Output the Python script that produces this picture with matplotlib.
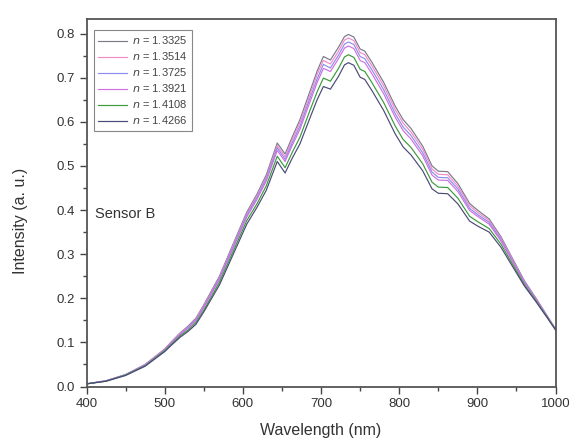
import numpy as np
import matplotlib
matplotlib.use("Agg")
import matplotlib.pyplot as plt
from matplotlib.ticker import MultipleLocator

plt.rcParams['font.family'] = ['Liberation Sans', 'DejaVu Sans']

wavelength = [400, 425, 450, 475, 500, 510, 520, 530, 540, 550, 570, 588, 605, 618,
              630, 644, 654, 663, 673, 685, 695, 703, 712, 722, 730, 735, 742, 750,
              756, 765, 780, 795, 805, 815, 830, 842, 850, 862, 875, 890, 900, 915,
              930, 945, 960, 975, 990, 1000]

n_1_3325 = [0.006, 0.013, 0.027, 0.050, 0.085, 0.104, 0.122, 0.137, 0.155, 0.185, 0.250, 0.325,
            0.395, 0.436, 0.480, 0.552, 0.527, 0.565, 0.605, 0.665, 0.715, 0.748, 0.740, 0.768,
            0.793, 0.798, 0.792, 0.765, 0.760, 0.735, 0.690, 0.635, 0.605, 0.585, 0.545, 0.500,
            0.488, 0.487, 0.460, 0.415, 0.400, 0.380, 0.340, 0.290, 0.240, 0.200, 0.158, 0.130]
n_1_3514 = [0.006, 0.013, 0.027, 0.050, 0.084, 0.103, 0.121, 0.135, 0.153, 0.183, 0.247, 0.322,
            0.391, 0.432, 0.475, 0.546, 0.521, 0.559, 0.598, 0.657, 0.707, 0.739, 0.731, 0.759,
            0.785, 0.790, 0.784, 0.757, 0.752, 0.727, 0.682, 0.627, 0.597, 0.577, 0.538, 0.493,
            0.481, 0.480, 0.454, 0.410, 0.395, 0.376, 0.337, 0.288, 0.238, 0.199, 0.158, 0.130]
n_1_3725 = [0.006, 0.013, 0.027, 0.049, 0.083, 0.102, 0.119, 0.134, 0.151, 0.181, 0.245, 0.319,
            0.388, 0.428, 0.471, 0.541, 0.515, 0.552, 0.590, 0.649, 0.697, 0.730, 0.722, 0.750,
            0.776, 0.781, 0.775, 0.748, 0.743, 0.718, 0.673, 0.618, 0.588, 0.569, 0.530, 0.486,
            0.474, 0.473, 0.448, 0.404, 0.390, 0.372, 0.334, 0.285, 0.237, 0.198, 0.157, 0.129]
n_1_3921 = [0.006, 0.013, 0.026, 0.048, 0.083, 0.101, 0.118, 0.132, 0.149, 0.179, 0.242, 0.315,
            0.384, 0.424, 0.466, 0.535, 0.510, 0.546, 0.583, 0.641, 0.689, 0.721, 0.714, 0.742,
            0.767, 0.772, 0.766, 0.739, 0.734, 0.709, 0.664, 0.610, 0.580, 0.561, 0.523, 0.479,
            0.468, 0.467, 0.442, 0.399, 0.386, 0.368, 0.330, 0.283, 0.235, 0.197, 0.156, 0.129]
n_1_4108 = [0.006, 0.012, 0.026, 0.047, 0.081, 0.098, 0.115, 0.128, 0.145, 0.173, 0.236, 0.308,
            0.376, 0.414, 0.455, 0.522, 0.496, 0.530, 0.565, 0.622, 0.668, 0.699, 0.692, 0.720,
            0.747, 0.752, 0.746, 0.719, 0.714, 0.689, 0.644, 0.590, 0.560, 0.542, 0.505, 0.463,
            0.452, 0.451, 0.427, 0.386, 0.374, 0.358, 0.323, 0.277, 0.231, 0.194, 0.155, 0.129]
n_1_4266 = [0.006, 0.012, 0.025, 0.046, 0.079, 0.096, 0.112, 0.125, 0.141, 0.169, 0.230, 0.301,
            0.368, 0.406, 0.445, 0.510, 0.484, 0.517, 0.550, 0.605, 0.650, 0.680, 0.674, 0.702,
            0.729, 0.734, 0.728, 0.701, 0.696, 0.671, 0.626, 0.572, 0.543, 0.525, 0.489, 0.448,
            0.438, 0.437, 0.414, 0.375, 0.364, 0.350, 0.316, 0.272, 0.228, 0.192, 0.154, 0.128]

series = [n_1_3325, n_1_3514, n_1_3725, n_1_3921, n_1_4108, n_1_4266]
labels = ['1.3325', '1.3514', '1.3725', '1.3921', '1.4108', '1.4266']
colors = ['#7a7a8a', '#f08ac8', '#8c8cf0', '#d070e0', '#3a9a3a', '#4a4a78']

fig = plt.figure(figsize=(5.71, 4.47), dpi=100)
ax = fig.add_axes([0.1515, 0.1353, 0.8215, 0.8222])

for y, lab, c in zip(series, labels, colors):
    ax.plot(wavelength, y, color=c, lw=0.85, label=r'$n$ = ' + lab)

ax.set_xlim(400, 1000)
ax.set_ylim(0, 0.833)
ax.xaxis.set_major_locator(MultipleLocator(100))
ax.xaxis.set_minor_locator(MultipleLocator(50))
ax.yaxis.set_major_locator(MultipleLocator(0.1))
ax.yaxis.set_minor_locator(MultipleLocator(0.05))
ax.yaxis.set_major_formatter(matplotlib.ticker.FormatStrFormatter('%.1f'))
ax.tick_params(which='major', direction='out', length=5, width=1, labelsize=9.5,
               color='#444444', labelcolor='#333333')
ax.tick_params(which='minor', direction='out', length=3, width=1, color='#444444')
for sp in ax.spines.values():
    sp.set_linewidth(1.3)
    sp.set_color('#555555')

ax.set_xlabel('Wavelength (nm)', fontsize=11.5, color='#333333')
ax.set_ylabel('Intensity (a. u.)', fontsize=11.5, color='#333333')
ax.xaxis.set_label_coords(0.5, -0.1)
ax.yaxis.set_label_coords(-0.125, 0.45)
ax.text(0.018, 0.458, 'Sensor B', transform=ax.transAxes, fontsize=10.5, color='#333333')

leg = ax.legend(loc='upper left', bbox_to_anchor=(0.016, 0.97), fontsize=8,
                handlelength=2.6, handletextpad=0.4, labelspacing=0.36,
                borderpad=0.4, fancybox=False, framealpha=1, borderaxespad=0)
leg.get_frame().set_edgecolor('#888888')
leg.get_frame().set_linewidth(0.8)
for t in leg.get_texts():
    t.set_color('#444444')

fig.savefig('out.png', dpi=100)
